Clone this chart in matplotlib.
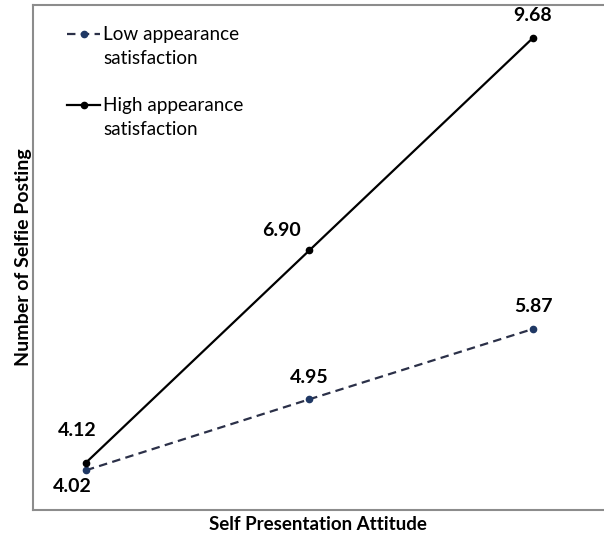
import numpy as np
import matplotlib.pyplot as plt
from matplotlib.legend_handler import HandlerLine2D

# Data
levels = [0, 1, 2]  # low / mean / high self presentation attitude
low_vals = [4.02, 4.95, 5.87]
high_vals = [4.12, 6.90, 9.68]
low_label = 'Low appearance\nsatisfaction'
high_label = 'High appearance\nsatisfaction'

plt.rcParams['font.family'] = ['Lato', 'DejaVu Sans']


class FirstLineHandler(HandlerLine2D):
    """Put the legend handle next to the first line of a two-line label."""
    def __init__(self, shift, **kw):
        super().__init__(**kw)
        self.shift = shift

    def create_artists(self, legend, orig_handle, xdescent, ydescent,
                       width, height, fontsize, trans):
        arts = super().create_artists(legend, orig_handle, xdescent, ydescent,
                                      width, height, fontsize, trans)
        for a in arts:
            a.set_ydata(np.asarray(a.get_ydata(), dtype=float) + self.shift)
        return arts


fig = plt.figure(figsize=(6.04, 5.38), dpi=100)
ax = fig.add_axes([0.0546, 0.052, 0.9437, 0.9387])

low_line, = ax.plot(levels, low_vals, color='#2b3048', linewidth=1.6, dashes=(3.8, 2.4),
                    marker='o', markersize=4.5, markerfacecolor='#1f3864',
                    markeredgecolor='#1f3864', label=low_label)
high_line, = ax.plot(levels, high_vals, color='black', linewidth=1.6,
                     marker='o', markersize=4.5, label=high_label)

# value labels (offsets in points)
low_offsets = [(-10, -12), (0, 16), (0, 16)]
high_offsets = [(-6, 23), (-20, 14), (0, 16)]
for x, y, off in zip(levels, low_vals, low_offsets):
    ax.annotate(f'{y:.2f}', (x, y), xytext=off, textcoords='offset points',
                ha='center', va='center', fontsize=14, fontweight='bold')
for x, y, off in zip(levels, high_vals, high_offsets):
    ax.annotate(f'{y:.2f}', (x, y), xytext=off, textcoords='offset points',
                ha='center', va='center', fontsize=14, fontweight='bold')

ax.set_xlim(-0.237, 2.313)
ax.set_ylim(3.5, 10.11)
ax.set_xticks([])
ax.set_yticks([])
for side in ['left', 'top', 'bottom']:
    ax.spines[side].set_color('#8c8c8c')
    ax.spines[side].set_linewidth(1.5)
ax.spines['right'].set_visible(False)

ax.set_xlabel('Self Presentation Attitude', fontsize=13.5, fontweight='bold', labelpad=4)
ax.set_ylabel('Number of Selfie Posting', fontsize=14, fontweight='bold', labelpad=1)

fs = 13.6
leg = ax.legend(handles=[low_line, high_line], loc='upper left',
                bbox_to_anchor=(0.06, 0.959), frameon=False, borderpad=0,
                borderaxespad=0, fontsize=fs, handlelength=1.75,
                handletextpad=0.15, labelspacing=1.6,
                handler_map={low_line: FirstLineHandler(0.66 * fs),
                             high_line: FirstLineHandler(0.66 * fs)})
for t in leg.get_texts():
    t.set_linespacing(1.5)

fig.savefig('out.png', dpi=100)
